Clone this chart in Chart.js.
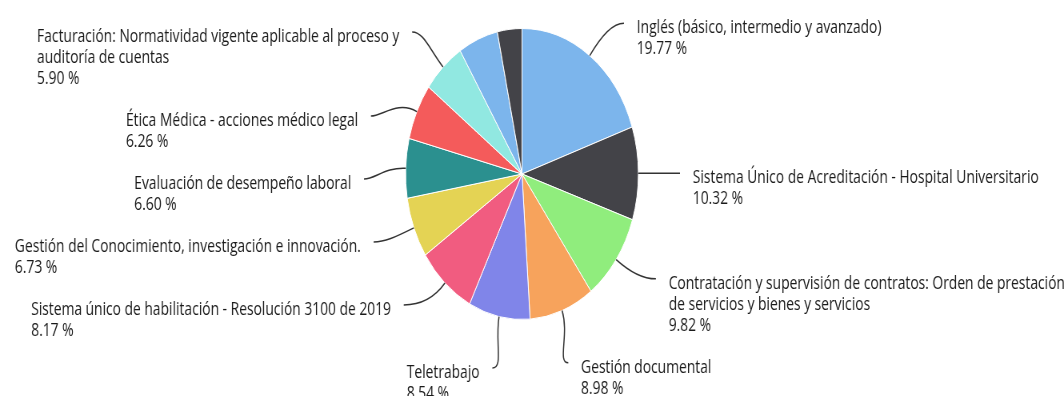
<!DOCTYPE html>
<html>
<head>
<meta charset="utf-8">
<script src="https://cdn.jsdelivr.net/npm/chart.js@4"></script>
<style>
  body { margin: 0; background: #fff; }
  #wrap { width: 1064px; height: 396px; overflow: hidden; }
  #pie { transform: scaleX(0.8); transform-origin: 0 0; }
</style>
</head>
<body>
<div id="wrap"><canvas id="pie" width="1330" height="396"></canvas></div>
<script>
// slice names, one array of lines per slice ('' = no label)
const categories = [
  ['Inglés (básico, intermedio y avanzado)'],
  ['Sistema Único de Acreditación - Hospital Universitario'],
  ['Contratación y supervisión de contratos: Orden de prestación', 'de servicios y bienes y servicios'],
  ['Gestión documental'],
  ['Teletrabajo'],
  ['Sistema único de habilitación - Resolución 3100 de 2019'],
  ['Gestión del Conocimiento, investigación e innovación.'],
  ['Evaluación de desempeño laboral'],
  ['Ética Médica - acciones médico legal'],
  ['Facturación: Normatividad vigente aplicable al proceso y', 'auditoría de cuentas'],
  '',
  ''
];
const percents = [19.77, 10.32, 9.82, 8.98, 8.54, 8.17, 6.73, 6.60, 6.26, 5.90, 5.51, 3.40];
const sliceColors = [
  '#7cb5ec', '#434348', '#90ed7d', '#f7a35c', '#8085e9', '#f15c80',
  '#e4d354', '#2b908f', '#f45b5b', '#91e8e1', '#7cb5ec', '#434348'
];

const LABEL_DIST = 52;   // connector end, beyond the pie edge
const TARGET_DIST = 40;  // where a label would like to sit
const LABEL_GAP = 16;
const LINE_H = 21;
const BOX_PAD = 21;
const MIN_SPACE = 4;
const MIN_Y = 0, MAX_Y = 415;

// stack label boxes so they don't overlap, keeping them near their slice
function distribute(boxes) {
  let groups = boxes.map(b => ({ items: [b], size: b.size, target: b.target }));
  let changed = true;
  while (changed) {
    changed = false;
    groups.forEach(g => {
      g.pos = Math.min(Math.max(g.target - g.size / 2, MIN_Y), MAX_Y - g.size);
    });
    for (let k = 0; k < groups.length - 1; k++) {
      const a = groups[k], b = groups[k + 1];
      if (a.pos + a.size + MIN_SPACE > b.pos) {
        const items = a.items.concat(b.items);
        const target = items.reduce((s, it) => s + it.target, 0) / items.length;
        groups.splice(k, 2, { items, size: a.size + b.size, target });
        changed = true;
        break;
      }
    }
  }
  groups.forEach(g => {
    let y = g.pos;
    g.items.forEach(it => { it.center = y + it.size / 2; y += it.size; });
  });
}

// draws the outside labels with their connector lines
const sliceLabels = {
  id: 'sliceLabels',
  afterDatasetsDraw(chart) {
    const ctx = chart.ctx;
    const meta = chart.getDatasetMeta(0);
    ctx.save();
    ctx.font = '17.3px "Open Sans"';
    ctx.textBaseline = 'middle';

    const labels = [];
    meta.data.forEach((arc, i) => {
      if (!categories[i]) return;
      const p = arc.getProps(['x', 'y', 'startAngle', 'endAngle', 'outerRadius'], true);
      const mid = (p.startAngle + p.endAngle) / 2;
      const lines = categories[i].concat([percents[i].toFixed(2) + ' %']);
      const firstY = p.y + (p.outerRadius + TARGET_DIST) * Math.sin(mid) + 5;
      labels.push({
        p, mid, lines,
        right: Math.cos(mid) >= 0,
        size: lines.length * LINE_H + BOX_PAD,
        target: firstY + (lines.length - 1) * LINE_H / 2
      });
    });

    [true, false].forEach(side => {
      distribute(labels.filter(l => l.right === side).sort((a, b) => a.target - b.target));
    });

    labels.forEach(l => {
      const { p, mid, lines } = l;
      const cos = Math.cos(mid), sin = Math.sin(mid);
      const r = p.outerRadius;
      const R = r + LABEL_DIST;
      const dir = l.right ? 1 : -1;
      const px = p.x + r * cos, py = p.y + r * sin;
      const firstY = l.center - (lines.length - 1) * LINE_H / 2;
      const ay = firstY - 5;
      const dy = Math.min(Math.abs(ay - p.y), R);
      const ax = p.x + dir * Math.sqrt(R * R - dy * dy);

      ctx.strokeStyle = '#333';
      ctx.lineWidth = 1.5;
      ctx.beginPath();
      ctx.moveTo(px, py);
      ctx.bezierCurveTo(
        px + cos * LABEL_DIST * 0.5, py + sin * LABEL_DIST * 0.5,
        ax - dir * 14, ay,
        ax, ay
      );
      ctx.stroke();

      const w = Math.max(...lines.map(t => ctx.measureText(t).width));
      const left = l.right ? ax + LABEL_GAP : ax - LABEL_GAP - w;
      ctx.fillStyle = '#1a1a1a';
      ctx.textAlign = 'left';
      lines.forEach((t, k) => ctx.fillText(t, left, firstY + k * LINE_H));
    });
    ctx.restore();
  }
};

new Chart(document.getElementById('pie'), {
  type: 'pie',
  data: {
    labels: categories,
    datasets: [{
      data: percents,
      backgroundColor: sliceColors,
      borderColor: '#fff',
      borderWidth: 1
    }]
  },
  options: {
    responsive: false,
    animation: false,
    layout: { padding: { top: 28, bottom: 76, left: 0, right: 25 } },
    plugins: {
      legend: { display: false },
      tooltip: { enabled: false }
    }
  },
  plugins: [sliceLabels]
});
</script>
</body>
</html>
